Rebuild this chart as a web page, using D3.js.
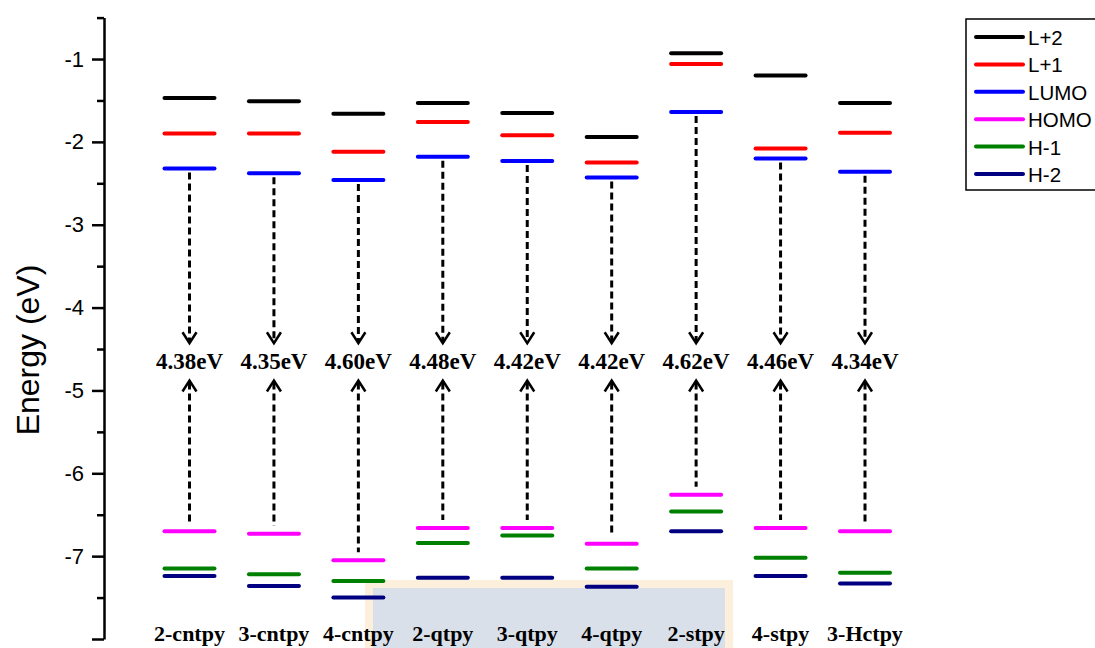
<!DOCTYPE html>
<html>
<head>
<meta charset="utf-8">
<script src="https://cdn.jsdelivr.net/npm/d3@7"></script>
<style>
  body { margin: 0; background: #fff; }
  svg { display: block; }
</style>
</head>
<body>
<div id="chart"></div>
<script>
// molecules along the x axis
const categories = ["2-cntpy", "3-cntpy", "4-cntpy", "2-qtpy", "3-qtpy", "4-qtpy", "2-stpy", "4-stpy", "3-Hctpy"];
// orbital energies (eV)
const lPlus2 = [-1.47, -1.51, -1.66, -1.53, -1.65, -1.94, -0.93, -1.20, -1.53];
const lPlus1 = [-1.90, -1.90, -2.12, -1.76, -1.92, -2.25, -1.06, -2.08, -1.89];
const lumo   = [-2.32, -2.38, -2.46, -2.18, -2.23, -2.43, -1.64, -2.20, -2.36];
const homo   = [-6.70, -6.73, -7.05, -6.66, -6.66, -6.85, -6.26, -6.66, -6.70];
const hMinus1 = [-7.15, -7.22, -7.30, -6.84, -6.75, -7.15, -6.46, -7.02, -7.20];
const hMinus2 = [-7.24, -7.36, -7.50, -7.26, -7.26, -7.37, -6.70, -7.24, -7.33];
// HOMO-LUMO gap labels
const gaps = ["4.38eV", "4.35eV", "4.60eV", "4.48eV", "4.42eV", "4.42eV", "4.62eV", "4.46eV", "4.34eV"];
// y axis ticks
const majorTicks = [-1, -2, -3, -4, -5, -6, -7, -8];
const minorTicks = [-0.5, -1.5, -2.5, -3.5, -4.5, -5.5, -6.5, -7.5];

const series = [
  { name: "L+2", values: lPlus2, color: "#000000" },
  { name: "L+1", values: lPlus1, color: "#ff0000" },
  { name: "LUMO", values: lumo, color: "#0000ff" },
  { name: "HOMO", values: homo, color: "#ff00ff" },
  { name: "H-1", values: hMinus1, color: "#008000" },
  { name: "H-2", values: hMinus2, color: "#000080" }
];

const width = 1095, height = 648;
const svg = d3.select("#chart").append("svg")
  .attr("width", width)
  .attr("height", height);

const y = d3.scaleLinear().domain([-8, -0.5]).range([639, 17.6]);
const x = d3.scalePoint().domain(categories).range([189.5, 865]);
const levelW = 50;

// faint watermark box at the bottom
svg.append("rect")
  .attr("x", 369).attr("y", 584).attr("width", 360).attr("height", 70)
  .attr("fill", "#d9e0ea").attr("stroke", "#fcefdc").attr("stroke-width", 8);

// y axis: major ticks
const axis = svg.append("g")
  .attr("transform", "translate(104,0)")
  .call(d3.axisLeft(y).tickValues(majorTicks).tickSize(12).tickSizeOuter(0).tickPadding(8)
    .tickFormat(d => d === -8 ? "" : String(d)));
axis.select(".domain").attr("stroke-width", 2.5);
axis.selectAll(".tick line").attr("stroke-width", 2.5);
axis.selectAll("text")
  .attr("font-family", "Liberation Sans, Arial, sans-serif")
  .attr("font-size", 22)
  .attr("fill", "#000");

// minor ticks
const minor = svg.append("g")
  .attr("transform", "translate(104,0)")
  .call(d3.axisLeft(y).tickValues(minorTicks).tickSize(7).tickSizeOuter(0).tickFormat(""));
minor.select(".domain").remove();
minor.selectAll(".tick line").attr("stroke-width", 2.5);

svg.append("text")
  .attr("transform", `translate(39,${350}) rotate(-90)`)
  .attr("text-anchor", "middle")
  .attr("font-family", "Liberation Sans, Arial, sans-serif")
  .attr("font-size", 32)
  .text("Energy (eV)");

// energy levels
series.forEach(s => {
  svg.append("g").selectAll("line")
    .data(categories)
    .join("line")
    .attr("x1", d => x(d) - levelW / 2)
    .attr("x2", d => x(d) + levelW / 2)
    .attr("y1", (d, i) => y(s.values[i]))
    .attr("y2", (d, i) => y(s.values[i]))
    .attr("stroke", s.color)
    .attr("stroke-width", 4)
    .attr("stroke-linecap", "round");
});

// gap arrows
const downTip = y(-4.43), upTip = y(-4.88);
const arrows = svg.append("g");
categories.forEach((c, i) => {
  const cx = x(c);
  arrows.append("line")
    .attr("x1", cx).attr("x2", cx)
    .attr("y1", y(lumo[i]) + 4).attr("y2", downTip - 2)
    .attr("stroke", "#000").attr("stroke-width", 3).attr("stroke-dasharray", "7,4");
  arrows.append("path")
    .attr("d", `M${cx - 7},${downTip - 11}L${cx},${downTip}L${cx + 7},${downTip - 11}`)
    .attr("fill", "none").attr("stroke", "#000").attr("stroke-width", 2.5);
  arrows.append("line")
    .attr("x1", cx).attr("x2", cx)
    .attr("y1", upTip + 2).attr("y2", y(homo[i]) - 8)
    .attr("stroke", "#000").attr("stroke-width", 3).attr("stroke-dasharray", "7,4");
  arrows.append("path")
    .attr("d", `M${cx - 7},${upTip + 11}L${cx},${upTip}L${cx + 7},${upTip + 11}`)
    .attr("fill", "none").attr("stroke", "#000").attr("stroke-width", 2.5);
});

// gap labels
svg.append("g").selectAll("text")
  .data(categories)
  .join("text")
  .attr("x", d => x(d))
  .attr("y", 369)
  .attr("text-anchor", "middle")
  .attr("font-family", "Liberation Serif, Times New Roman, serif")
  .attr("font-weight", "bold")
  .attr("font-size", 23)
  .text((d, i) => gaps[i]);

// category labels
svg.append("g").selectAll("text")
  .data(categories)
  .join("text")
  .attr("x", d => x(d))
  .attr("y", 641)
  .attr("text-anchor", "middle")
  .attr("font-family", "Liberation Serif, Times New Roman, serif")
  .attr("font-weight", "bold")
  .attr("font-size", 22)
  .text(d => d);

// legend
const legend = svg.append("g").attr("transform", "translate(966,19)");
legend.append("rect")
  .attr("width", 140).attr("height", 171)
  .attr("fill", "#fff").attr("stroke", "#000").attr("stroke-width", 1.5);
const rows = legend.selectAll("g.row")
  .data(series)
  .join("g")
  .attr("class", "row")
  .attr("transform", (d, i) => `translate(0,${18 + i * 27.4})`);
rows.append("line")
  .attr("x1", 10).attr("x2", 57)
  .attr("stroke", d => d.color).attr("stroke-width", 4).attr("stroke-linecap", "round");
rows.append("text")
  .attr("x", 62).attr("y", 8)
  .attr("font-family", "Liberation Sans, Arial, sans-serif")
  .attr("font-size", 20.5)
  .text(d => d.name);
</script>
</body>
</html>
